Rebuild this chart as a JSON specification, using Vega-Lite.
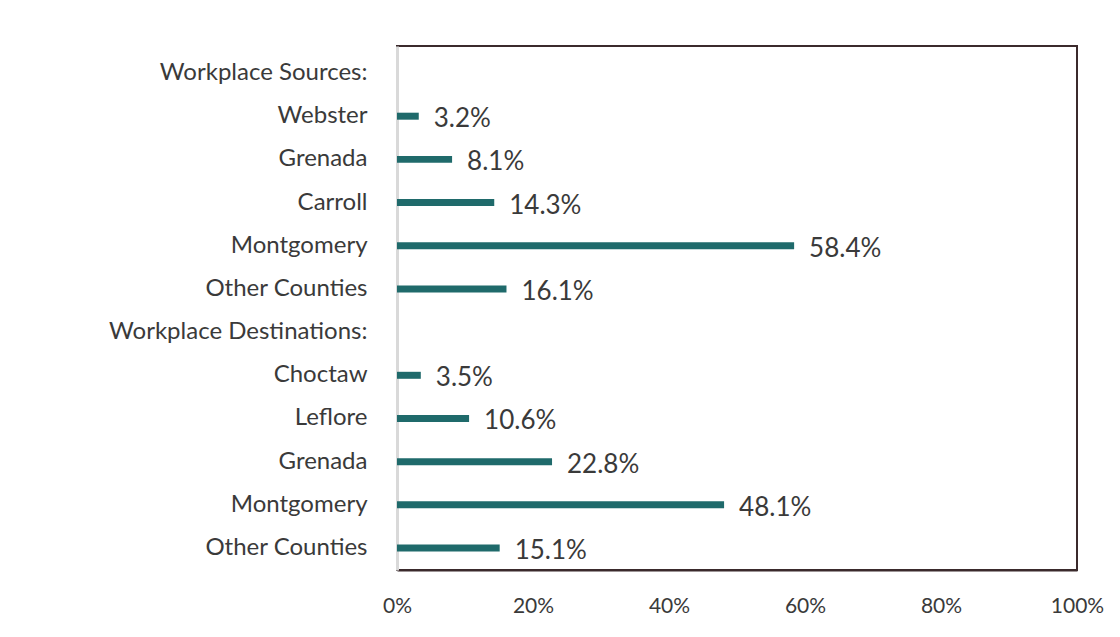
{
  "$schema": "https://vega.github.io/schema/vega-lite/v6.json",
  "autosize": {"type": "none"},
  "padding": {"left": 397, "top": 46, "right": 43, "bottom": 67},
  "width": 680,
  "height": 524,
  "background": "white",
  "config": {
    "view": {"stroke": "#3b2a2c", "strokeWidth": 2},
    "font": "Lato",
    "axis": {"labelFont": "Lato", "labelColor": "#3a3a3a"}
  },
  "data": {
    "values": [
      {"key": "01|Workplace Sources:", "value": null},
      {"key": "02|Webster", "value": 0.032},
      {"key": "03|Grenada", "value": 0.081},
      {"key": "04|Carroll", "value": 0.143},
      {"key": "05|Montgomery", "value": 0.584},
      {"key": "06|Other Counties", "value": 0.161},
      {"key": "07|Workplace Destinations:", "value": null},
      {"key": "08|Choctaw", "value": 0.035},
      {"key": "09|Leflore", "value": 0.106},
      {"key": "10|Grenada", "value": 0.228},
      {"key": "11|Montgomery", "value": 0.481},
      {"key": "12|Other Counties", "value": 0.151}
    ]
  },
  "encoding": {
    "y": {
      "field": "key",
      "type": "nominal",
      "sort": null,
      "scale": {
        "domain": ["01|Workplace Sources:", "02|Webster", "03|Grenada", "04|Carroll", "05|Montgomery", "06|Other Counties", "07|Workplace Destinations:", "08|Choctaw", "09|Leflore", "10|Grenada", "11|Montgomery", "12|Other Counties"],
        "paddingInner": 0.838, "paddingOuter": 0.486, "align": 0.56
      },
      "axis": {
        "title": null,
        "ticks": false,
        "labelPadding": 30,
        "labelFontSize": 24,
        "labelLimit": 400,
        "labelExpr": "split(datum.value, '|')[1]",
        "domainColor": "#d9d9d9",
        "domainWidth": 3
      }
    },
    "x": {
      "field": "value",
      "type": "quantitative",
      "scale": {"domain": [0, 1], "nice": false},
      "axis": {
        "title": null,
        "format": ".0%",
        "values": [0, 0.2, 0.4, 0.6, 0.8, 1],
        "ticks": false,
        "grid": false,
        "labelFlush": false,
        "labelFontSize": 21,
        "labelPadding": 25,
        "domainColor": "#3b2a2c",
        "domainWidth": 2
      }
    }
  },
  "layer": [
    {
      "mark": {"type": "bar", "color": "#1f6a6b"}
    },
    {
      "transform": [{"filter": "isValid(datum.value)"}],
      "mark": {"type": "text", "align": "left", "baseline": "middle", "dx": 15, "dy": 3, "fontSize": 26, "color": "#3a3a3a", "font": "Lato"},
      "encoding": {
        "text": {"field": "value", "type": "quantitative", "format": ".1%"}
      }
    }
  ]
}
